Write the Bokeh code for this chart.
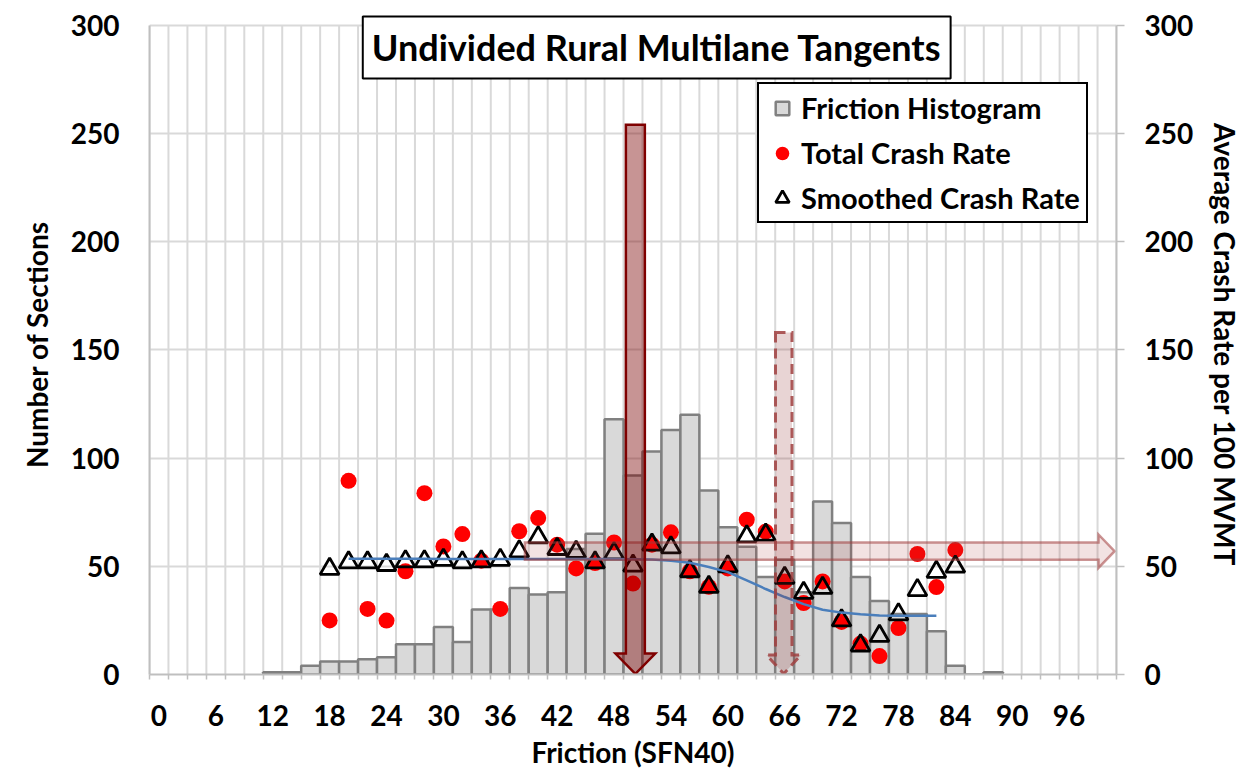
from bokeh.plotting import figure
from bokeh.models import (Range1d, LinearAxis, FixedTicker, Label, Legend, LegendItem)
from bokeh.embed import file_html
from bokeh.resources import INLINE

# ---------------- data ----------------
hist_bins = [12, 14, 16, 18, 20, 22, 24, 26, 28, 30, 32, 34, 36, 38, 40, 42, 44, 46, 48, 50,
             52, 54, 56, 58, 60, 62, 64, 66, 68, 70, 72, 74, 76, 78, 80, 82, 84, 86, 88]
hist_counts = [1, 1, 4, 6, 6, 7, 8, 14, 14, 22, 15, 30, 30, 40, 37, 38, 58, 65, 118, 92,
               103, 113, 120, 85, 68, 59, 45, 53, 38, 80, 70, 45, 34, 28, 28, 20, 4, 0, 1]

rate_x = [18, 20, 22, 24, 26, 28, 30, 32, 34, 36, 38, 40, 42, 44, 46, 48, 50, 52, 54, 56,
          58, 60, 62, 64, 66, 68, 70, 72, 74, 76, 78, 80, 82, 84]
total_rate = [25, 89.5, 30.3, 24.9, 47.7, 83.8, 59.2, 64.9, 52.6, 30.3, 66.2, 72.3, 60, 49,
              51.5, 61, 42, 60, 65.7, 47.7, 40.5, 49, 71.5, 66, 43, 33, 43, 24.3, 14.3, 8.5,
              21.5, 55.7, 40.4, 57.5]
smoothed_rate = [48.8, 51.8, 51.8, 50.6, 52.3, 52.3, 53, 51.8, 52.3, 53, 56.9, 63.4, 58, 56.6,
                 51.8, 56, 50.3, 60, 58.7, 47.7, 40.5, 50, 63.8, 64.6, 44.6, 37.7, 40, 25,
                 13.4, 17.8, 27.8, 39, 47.4, 49.8]

trend_x = [20, 22, 24, 26, 28, 30, 32, 34, 36, 38, 40, 42, 44, 46, 48, 50, 52, 54, 56, 58,
           60, 62, 64, 66, 68, 70, 72, 74, 76, 78, 80, 82]
trend_y = [53.5, 53.5, 53.5, 53.5, 53.5, 53.4, 53.4, 53.4, 53.4, 53.4, 53.4, 53.4, 53.4, 53.4,
           53.4, 53.3, 53.1, 52.6, 51.6, 49.7, 47.3, 43.5, 39.5, 35.8, 32.5, 29.9, 28.6, 27.8,
           27.3, 27.1, 27.1, 27.2]

x_tick_values = [0, 6, 12, 18, 24, 30, 36, 42, 48, 54, 60, 66, 72, 78, 84, 90, 96]
y_tick_values = [0, 50, 100, 150, 200, 250, 300]

title_text = "Undivided Rural Multilane Tangents"
x_label = "Friction (SFN40)"
y_left_label = "Number of Sections"
y_right_label = "Average Crash Rate per 100 MVMT"

# annotation arrows (position in data units)
big_arrow = dict(x=50.25, top=254, head_base=9.7, tip=0.3, shaft_half=1.0, head_half=2.1)
dash_arrow = dict(x=65.9, top=158, head_base=9.0, tip=0.3, shaft_half=0.87, head_half=1.8)
h_arrow = dict(left=38.6, y=57, shaft_half=4.0, head_base=99.1, head_half=7.7, tip=100.8)

FONT = "Lato"
TICK_SIZE = "28px"
AXIS_LABEL_SIZE = "28px"
Y_MAX = 300
Y_TOP = 305  # a little room above the 300 line for the title box

# ---------------- figure ----------------
p = figure(width=1245, height=771, output_backend="svg", toolbar_location=None,
           x_range=Range1d(-1, 101), y_range=Range1d(0, Y_TOP),
           min_border_left=149, min_border_right=125, min_border_top=14, min_border_bottom=96)
p.outline_line_color = None
p.background_fill_color = "white"
p.border_fill_color = "white"
p.extra_y_ranges = {"rate": Range1d(0, Y_TOP)}

# grids
boundaries = list(range(-1, 102, 2))
p.xgrid.visible = False
p.segment(x0=boundaries, y0=[0] * len(boundaries), x1=boundaries, y1=[Y_MAX] * len(boundaries),
          line_color="#D9D9D9", line_width=2, level="underlay")
p.ygrid.ticker = FixedTicker(ticks=y_tick_values)
p.ygrid.grid_line_color = "#D9D9D9"
p.ygrid.grid_line_width = 2

# x axis
xa = p.xaxis[0]
xa.ticker = FixedTicker(ticks=x_tick_values, minor_ticks=boundaries)
xa.axis_line_color = "#BFBFBF"
xa.axis_line_width = 2
xa.major_tick_line_color = None
xa.major_tick_out = 0
xa.major_tick_in = 0
xa.minor_tick_line_color = "#BFBFBF"
xa.minor_tick_line_width = 1.5
xa.minor_tick_out = 5
xa.minor_tick_in = 0
xa.major_label_text_font = FONT
xa.major_label_text_font_size = TICK_SIZE
xa.major_label_text_font_style = "bold"
xa.major_label_text_color = "black"
xa.major_label_standoff = 25
xa.axis_label = x_label
xa.axis_label_text_font = FONT
xa.axis_label_text_font_size = AXIS_LABEL_SIZE
xa.axis_label_text_font_style = "bold"
xa.axis_label_text_color = "black"
xa.axis_label_standoff = 6

# left y axis
ya = p.yaxis[0]
ya.ticker = FixedTicker(ticks=y_tick_values)
ya.bounds = (0, Y_MAX)
ya.axis_line_color = "#BFBFBF"
ya.axis_line_width = 2
ya.major_tick_line_color = None
ya.major_tick_out = 0
ya.major_tick_in = 0
ya.minor_tick_line_color = None
ya.major_label_text_font = FONT
ya.major_label_text_font_size = TICK_SIZE
ya.major_label_text_font_style = "bold"
ya.major_label_text_color = "black"
ya.major_label_standoff = 30
ya.axis_label = y_left_label
ya.axis_label_text_font = FONT
ya.axis_label_text_font_size = AXIS_LABEL_SIZE
ya.axis_label_text_font_style = "bold"
ya.axis_label_text_color = "black"
ya.axis_label_standoff = 14

# right y axis
ra = LinearAxis(y_range_name="rate", ticker=FixedTicker(ticks=y_tick_values), bounds=(0, Y_MAX))
ra.axis_line_color = "#BFBFBF"
ra.axis_line_width = 2
ra.major_tick_line_color = "#BFBFBF"
ra.major_tick_line_width = 1.5
ra.major_tick_out = 8
ra.major_tick_in = 0
ra.minor_tick_line_color = None
ra.major_label_text_font = FONT
ra.major_label_text_font_size = TICK_SIZE
ra.major_label_text_font_style = "bold"
ra.major_label_text_color = "black"
ra.major_label_standoff = 20
ra.axis_label = y_right_label
ra.axis_label_text_font = FONT
ra.axis_label_text_font_size = AXIS_LABEL_SIZE
ra.axis_label_text_font_style = "bold"
ra.axis_label_text_color = "black"
ra.axis_label_standoff = 12
p.add_layout(ra, "right")

# ---------------- glyphs ----------------
bars = p.vbar(x=hist_bins, top=hist_counts, width=2, bottom=0,
              fill_color="#D9D9D9", line_color="#808080", line_width=2.5)
dots = p.scatter(x=rate_x, y=total_rate, y_range_name="rate", marker="circle", size=16,
                 fill_color="#FF0000", line_color=None)
tris = p.scatter(x=rate_x, y=smoothed_rate, y_range_name="rate", marker="triangle", size=19,
                 fill_color=None, line_color="black", line_width=2.8)
p.line(x=trend_x, y=trend_y, y_range_name="rate", line_color="#4A7EBB", line_width=2.5)

# legend-only square swatch for the histogram (a NaN point: nothing drawn in the plot)
hist_swatch = p.scatter(x=[float("nan")], y=[float("nan")], marker="square", size=16,
                        fill_color="#D9D9D9", line_color="#808080", line_width=2.5)


def v_arrow(a):
    x, sh, hh = a["x"], a["shaft_half"], a["head_half"]
    xs = [x - sh, x + sh, x + sh, x + hh, x, x - hh, x - sh]
    ys = [a["top"], a["top"], a["head_base"], a["head_base"], a["tip"], a["head_base"], a["head_base"]]
    return xs, ys


def h_arrow_poly(a):
    y, sh, hh = a["y"], a["shaft_half"], a["head_half"]
    xs = [a["left"], a["head_base"], a["head_base"], a["tip"], a["head_base"], a["head_base"], a["left"]]
    ys = [y - sh, y - sh, y - hh, y, y + hh, y + sh, y + sh]
    return xs, ys


hx, hy = h_arrow_poly(h_arrow)
p.patch(hx, hy, fill_color="#AA3C3C", fill_alpha=0.15, line_color="#A03C3C", line_alpha=0.55,
        line_width=2.5, line_join="miter")

dx, dy = v_arrow(dash_arrow)
p.patch(dx, dy, fill_color="#8C2828", fill_alpha=0.2, line_color="#A04040", line_alpha=0.85,
        line_width=3, line_dash="10 6", line_join="miter")

bx, by = v_arrow(big_arrow)
p.patch(bx, by, fill_color="#7A0000", fill_alpha=0.42, line_color="#7F0000", line_alpha=1.0,
        line_width=2.5, line_join="miter")

# ---------------- legend ----------------
legend = Legend(items=[LegendItem(label="Friction Histogram", renderers=[hist_swatch]),
                       LegendItem(label="Total Crash Rate", renderers=[dots]),
                       LegendItem(label="Smoothed Crash Rate", renderers=[tris])],
                location=(608, 451))
legend.label_text_font = FONT
legend.label_text_font_size = "29px"
legend.label_text_font_style = "bold"
legend.label_text_color = "black"
legend.label_height = 34
legend.glyph_height = 34
legend.glyph_width = 34
legend.spacing = 10
legend.padding = 6
legend.margin = 0
legend.label_standoff = 2
legend.border_line_color = "black"
legend.border_line_alpha = 1.0
legend.border_line_width = 2
legend.background_fill_color = "white"
legend.background_fill_alpha = 1.0
p.add_layout(legend)

# ---------------- title box ----------------
title = Label(x=52.5, y=289.8, text=title_text, text_align="center", text_baseline="middle",
              text_font=FONT, text_font_size="36px", text_font_style="bold", text_color="black",
              background_fill_color="white", border_line_color="black", border_line_width=2,
              padding=9)
p.add_layout(title)

open("out.html", "w").write(file_html(p, INLINE))
